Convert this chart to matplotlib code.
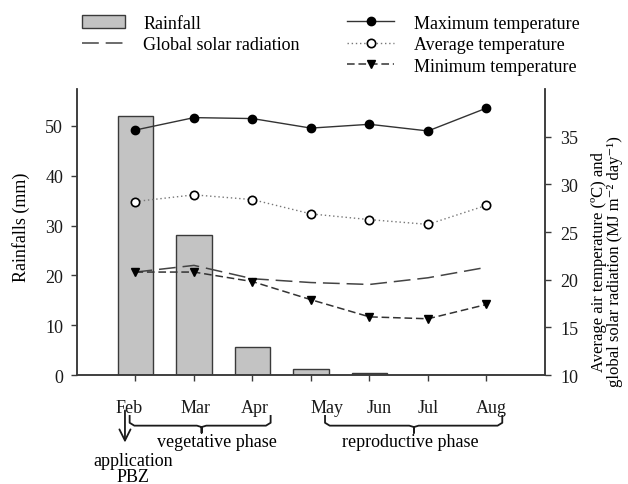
import matplotlib.pyplot as plt
from matplotlib.lines import Line2D
from matplotlib.patches import Patch
from matplotlib.transforms import ScaledTranslation, blended_transform_factory

plt.rcParams["font.family"] = ["Liberation Serif", "DejaVu Serif"]

# =========================
# DATA
# =========================

months = ["Feb", "Mar", "Apr", "May", "Jun", "Jul", "Aug"]

rainfall = [52.0, 28.1, 5.6, 1.2, 0.5, 0.0, 0.0]

max_temp = [35.7, 37.0, 36.9, 35.9, 36.3, 35.6, 38.0]
avg_temp = [28.2, 28.9, 28.4, 26.9, 26.3, 25.8, 27.8]
min_temp = [20.8, 20.8, 19.8, 17.9, 16.1, 15.9, 17.4]
solar_rad = [20.8, 21.5, 20.1, 19.7, 19.5, 20.2, 21.3]

rain_ticks = [0, 10, 20, 30, 40, 50]
temp_ticks = [10, 15, 20, 25, 30, 35]

# =========================
# FIGURE
# =========================

fig = plt.figure(figsize=(6.28, 4.85), dpi=100)
ax = fig.add_axes([0.1226, 0.2247, 0.7452, 0.5897])
ax2 = ax.twinx()

axis_col = "#3a3a3a"
x = list(range(len(months)))

# =========================
# BARS (left axis)
# =========================

ax.bar(x, rainfall, width=0.6, color="#c3c3c3", edgecolor=axis_col, linewidth=1.0, zorder=1)
ax.set_xlim(-1, 7)
ax.set_ylim(0, 57.4)
ax.set_yticks(rain_ticks)

# =========================
# LINES (right axis)
# =========================

ax2.plot(x, solar_rad, color="#444444", lw=1.1, dashes=(11, 4.5))
ax2.plot(x, max_temp, color="#333333", lw=1.0, marker="o", ms=6,
         mfc="black", mec="black")
ax2.plot(x, avg_temp, color="#777777", lw=1.0, ls=(0, (1, 2)), marker="o", ms=6,
         mfc="white", mec="black", mew=1.2)
ax2.plot(x, min_temp, color="#333333", lw=1.1, dashes=(5, 2.5), marker="v", ms=6,
         mfc="black", mec="black")
ax2.set_ylim(10, 40)
ax2.set_yticks(temp_ticks)

# =========================
# SPINES & TICKS
# =========================

for a in (ax, ax2):
    a.spines["top"].set_visible(False)
    for s in ("left", "right", "bottom"):
        a.spines[s].set_color(axis_col)
        a.spines[s].set_linewidth(1.1)
    a.tick_params(colors=axis_col, labelcolor="#1a1a1a", labelsize=13, length=4, width=1)

ax.set_xticks(x)
ax.set_xticklabels(months)
ax.tick_params(axis="x", pad=13)
ax.tick_params(axis="y", pad=6)
ax2.tick_params(axis="y", pad=7)

label_shift = [-6, 2, 2, 16, 10, 0, 5]
for lab, dx in zip(ax.get_xticklabels(), label_shift):
    lab.set_transform(lab.get_transform() + ScaledTranslation(dx / 100, 0, fig.dpi_scale_trans))

# =========================
# AXIS LABELS
# =========================

ax.set_ylabel("Rainfalls (mm)", fontsize=13)
ax.yaxis.set_label_coords(-0.10, 0.52)
ax2.set_ylabel("Average air temperature (\u00baC) and\nglobal solar radiation (MJ m\u207b\u00b2 day\u207b\u00b9)",
               fontsize=12, linespacing=1.0)
ax2.yaxis.set_label_coords(1.098, 0.40)

# =========================
# PHASE BRACES & NOTE
# =========================

tr = blended_transform_factory(ax.transData, ax.transAxes)


def brace(x0, x1, xc):
    top, mid, tip = -0.143, -0.177, -0.202
    xs = [x0, x0, x0 + 0.08, xc - 0.08, xc, xc, xc, xc + 0.08, x1 - 0.08, x1, x1]
    ys = [top, mid + 0.01, mid, mid, mid - 0.005, tip, mid - 0.005, mid, mid, mid + 0.01, top]
    ax.plot(xs, ys, color="#1a1a1a", lw=1.3, transform=tr, clip_on=False)


brace(-0.1, 2.31, 1.13)
brace(3.24, 6.27, 4.76)

ax.text(1.4, -0.232, "vegetative phase", transform=tr, ha="center", va="center", fontsize=13)
ax.text(4.7, -0.232, "reproductive phase", transform=tr, ha="center", va="center", fontsize=13)

ax.annotate("", xy=(-0.18, -0.236), xytext=(-0.18, -0.124), xycoords=tr, textcoords=tr,
            arrowprops=dict(arrowstyle="->", color="#1a1a1a", lw=1.3, mutation_scale=20,
                            shrinkA=0, shrinkB=0),
            annotation_clip=False)
ax.text(-0.04, -0.268, "application\nPBZ", transform=tr, ha="center", va="top",
        fontsize=13, linespacing=0.95)

# =========================
# LEGENDS
# =========================

left_handles = [
    Patch(facecolor="#c3c3c3", edgecolor=axis_col, linewidth=1.0),
    Line2D([], [], color="#444444", lw=1.1, dashes=(11, 4.5)),
]
fig.legend(left_handles, ["Rainfall", "Global solar radiation"],
           loc="upper left", bbox_to_anchor=(0.13, 0.968), frameon=False,
           fontsize=13, handlelength=2.4, handletextpad=1.0, labelspacing=0.25,
           borderpad=0, borderaxespad=0)

right_handles = [
    Line2D([], [], color="#333333", lw=1.0, marker="o", ms=6, mfc="black", mec="black"),
    Line2D([], [], color="#777777", lw=1.0, ls=(0, (1, 2)), marker="o", ms=6,
           mfc="white", mec="black", mew=1.2),
    Line2D([], [], color="#333333", lw=1.1, dashes=(5, 2.5), marker="v", ms=6,
           mfc="black", mec="black"),
]
fig.legend(right_handles, ["Maximum temperature", "Average temperature", "Minimum temperature"],
           loc="upper left", bbox_to_anchor=(0.553, 0.968), frameon=False,
           fontsize=13, handlelength=2.6, handletextpad=1.1, labelspacing=0.25,
           borderpad=0, borderaxespad=0)

plt.savefig("out.png", dpi=100)
